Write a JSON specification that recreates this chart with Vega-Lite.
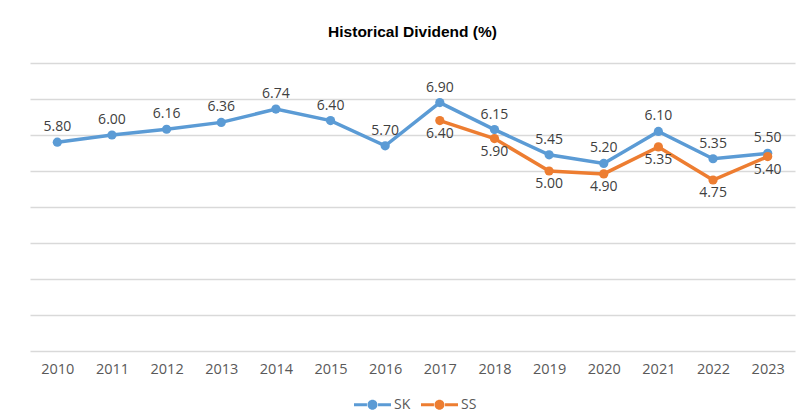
{
  "$schema": "https://vega.github.io/schema/vega-lite/v6.json",
  "autosize": "none",
  "width": 765,
  "height": 288,
  "padding": {"left": 30, "top": 63, "right": 9, "bottom": 68},
  "background": "white",
  "title": {
    "text": "Historical Dividend (%)",
    "font": "Liberation Sans",
    "fontSize": 15.5,
    "fontWeight": "bold",
    "color": "#000000",
    "anchor": "middle",
    "offset": 23
  },
  "config": {
    "view": {"stroke": null},
    "font": "Open Sans"
  },
  "data": {
    "values": [
      {"year": "2010", "series": "SK", "value": 5.80, "label": "5.80"},
      {"year": "2011", "series": "SK", "value": 6.00, "label": "6.00"},
      {"year": "2012", "series": "SK", "value": 6.16, "label": "6.16"},
      {"year": "2013", "series": "SK", "value": 6.35, "label": "6.36"},
      {"year": "2014", "series": "SK", "value": 6.72, "label": "6.74"},
      {"year": "2015", "series": "SK", "value": 6.40, "label": "6.40"},
      {"year": "2016", "series": "SK", "value": 5.70, "label": "5.70"},
      {"year": "2017", "series": "SK", "value": 6.90, "label": "6.90"},
      {"year": "2018", "series": "SK", "value": 6.15, "label": "6.15"},
      {"year": "2019", "series": "SK", "value": 5.45, "label": "5.45"},
      {"year": "2020", "series": "SK", "value": 5.21, "label": "5.20"},
      {"year": "2021", "series": "SK", "value": 6.10, "label": "6.10"},
      {"year": "2022", "series": "SK", "value": 5.34, "label": "5.35"},
      {"year": "2023", "series": "SK", "value": 5.49, "label": "5.50"},
      {"year": "2017", "series": "SS", "value": 6.40, "label": "6.40"},
      {"year": "2018", "series": "SS", "value": 5.90, "label": "5.90"},
      {"year": "2019", "series": "SS", "value": 5.00, "label": "5.00"},
      {"year": "2020", "series": "SS", "value": 4.92, "label": "4.90"},
      {"year": "2021", "series": "SS", "value": 5.67, "label": "5.35"},
      {"year": "2022", "series": "SS", "value": 4.75, "label": "4.75"},
      {"year": "2023", "series": "SS", "value": 5.40, "label": "5.40"}
    ]
  },
  "encoding": {
    "x": {
      "field": "year",
      "type": "ordinal",
      "scale": {"type": "point", "padding": 0.5},
      "axis": {
        "title": null,
        "labelAngle": 0,
        "labelFont": "Open Sans",
        "labelFontSize": 14.5,
        "labelColor": "#595959",
        "labelPadding": 11,
        "ticks": false,
        "domainColor": "#d9d9d9",
        "domainWidth": 1.5,
        "grid": false
      }
    },
    "y": {
      "field": "value",
      "type": "quantitative",
      "scale": {"domain": [0, 8], "nice": false},
      "axis": {
        "title": null,
        "labels": false,
        "ticks": false,
        "domain": false,
        "values": [1, 2, 3, 4, 5, 6, 7, 8],
        "grid": true,
        "gridColor": "#d9d9d9",
        "gridWidth": 1.5
      }
    },
    "color": {
      "field": "series",
      "type": "nominal",
      "scale": {"domain": ["SK", "SS"], "range": ["#5B9BD5", "#ED7D31"]},
      "legend": {
        "title": null,
        "orient": "none",
        "direction": "horizontal",
        "legendX": 324,
        "legendY": 323,
        "symbolType": "M-1,-0.08L-0.3,-0.08L-0.3,0.08L-1,0.08Z M0.3,-0.08L1,-0.08L1,0.08L0.3,0.08Z M0.27,0A0.27,0.27 0 1,1 -0.27,0A0.27,0.27 0 1,1 0.27,0Z",
        "symbolSize": 1369,
        "symbolStrokeWidth": 0,
        "symbolOpacity": 1,
        "labelFont": "Open Sans",
        "labelFontSize": 14,
        "labelColor": "#595959",
        "labelOffset": 3,
        "columnPadding": 10
      }
    }
  },
  "layer": [
    {
      "mark": {"type": "line", "strokeWidth": 3.5}
    },
    {
      "mark": {"type": "point", "filled": true, "size": 85, "opacity": 1}
    },
    {
      "transform": [{"filter": "datum.series === 'SK'"}],
      "mark": {"type": "text", "dy": -15, "fontSize": 14, "font": "Open Sans", "color": "#404040"},
      "encoding": {"text": {"field": "label"}, "color": {"value": "#404040"}}
    },
    {
      "transform": [{"filter": "datum.series === 'SS'"}],
      "mark": {"type": "text", "dy": 13, "fontSize": 14, "font": "Open Sans", "color": "#404040"},
      "encoding": {"text": {"field": "label"}, "color": {"value": "#404040"}}
    }
  ]
}
